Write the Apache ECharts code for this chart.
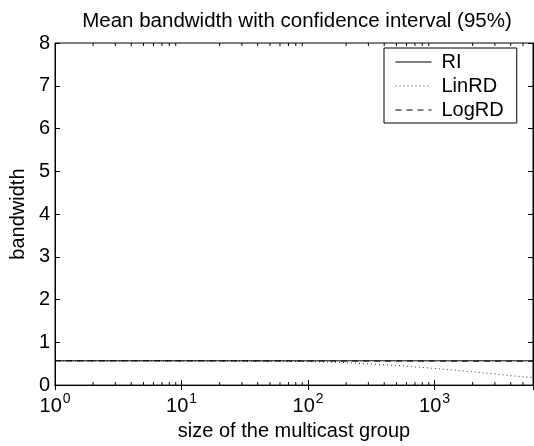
<!DOCTYPE html>
<html><head><meta charset="utf-8">
<script src="https://cdn.jsdelivr.net/npm/echarts@6/dist/echarts.min.js"></script>
<style>html,body{margin:0;padding:0;background:#fff}#c{width:534px;height:446px}</style>
</head><body><div id="c"></div>
<script>
var titleText = 'Mean bandwidth with confidence interval (95%)';
var xName = 'size of the multicast group';
var yName = 'bandwidth';
var groupSizes = [1, 2, 5, 10, 20, 50, 100, 200, 500, 1000, 2000, 3000, 4000, 5000, 6000];
var riValues    = [0.568, 0.568, 0.568, 0.568, 0.568, 0.568, 0.568, 0.568, 0.568, 0.568, 0.568, 0.568, 0.568, 0.568, 0.568];
var linrdValues = [0.568, 0.568, 0.567, 0.566, 0.564, 0.558, 0.55, 0.525, 0.46, 0.39, 0.31, 0.26, 0.22, 0.195, 0.175];
var logrdValues = [0.568, 0.567, 0.567, 0.566, 0.566, 0.565, 0.564, 0.563, 0.562, 0.561, 0.560, 0.560, 0.559, 0.559, 0.558];
var minorTicks = [2,3,4,5,6,7,8,9,20,30,40,50,60,70,80,90,200,300,400,500,600,700,800,900,2000,3000,4000,5000];
var seriesNames = ['RI', 'LinRD', 'LogRD'];
var xMin = 1, xMax = 6000, yMin = 0, yMax = 8;

var FONT = 'Liberation Sans, Arial, sans-serif';
function pairs(xs, ys) { return xs.map(function (x, i) { return [x, ys[i]]; }); }

var chart = echarts.init(document.getElementById('c'), null, {renderer: 'canvas'});
var black = '#000';
var option = {
  backgroundColor: '#fff',
  animation: false,
  title: {
    text: titleText, left: 292, top: 6, textAlign: 'center',
    textStyle: {fontFamily: FONT, fontSize: 20.5, fontWeight: 'normal', color: black}
  },
  grid: {left: 50, right: 1, top: 43, bottom: 56, show: true, borderColor: black, borderWidth: 1, backgroundColor: '#fff'},
  legend: {
    data: seriesNames, orient: 'vertical', left: 384, top: 48,
    backgroundColor: '#fff', borderColor: black, borderWidth: 1,
    padding: [3, 13, 2, 11], itemGap: 2, itemWidth: 36, itemHeight: 14,
    itemStyle: {opacity: 0, color: 'transparent', borderWidth: 0},
    lineStyle: {width: 1},
    textStyle: {fontFamily: FONT, fontSize: 20, color: black, lineHeight: 22, padding: [0, 0, 0, 5]}
  },
  xAxis: [{
    type: 'log', logBase: 10, min: xMin, max: xMax, position: 'bottom',
    name: xName, nameLocation: 'middle', nameGap: 33,
    nameTextStyle: {fontFamily: FONT, fontSize: 20, color: black},
    axisLine: {show: true, lineStyle: {color: black, width: 1}},
    axisTick: {show: true, inside: true, length: 5, lineStyle: {color: black}},
    splitLine: {show: false}, minorTick: {show: false},
    axisLabel: {
      margin: 7, color: black, showMaxLabel: false,
      formatter: function (v) { var e = Math.round(Math.log10(v)); return '{b|10}{s|' + e + '}'; },
      rich: {
        b: {fontFamily: FONT, fontSize: 20, color: black, lineHeight: 24, verticalAlign: 'bottom'},
        s: {fontFamily: FONT, fontSize: 14, color: black, lineHeight: 24, verticalAlign: 'top', padding: [0, 0, 10, 1]}
      }
    }
  }, {
    type: 'log', logBase: 10, min: xMin, max: xMax, position: 'top',
    axisLine: {show: true, lineStyle: {color: black, width: 1}},
    axisTick: {show: true, inside: true, length: 5, lineStyle: {color: black}},
    axisLabel: {show: false}, splitLine: {show: false}
  }],
  yAxis: [{
    type: 'value', min: yMin, max: yMax, interval: 1, position: 'left',
    name: yName, nameLocation: 'middle', nameGap: 14,
    nameTextStyle: {fontFamily: FONT, fontSize: 20, color: black},
    axisLine: {show: true, lineStyle: {color: black, width: 1}},
    axisTick: {show: true, inside: true, length: 5, lineStyle: {color: black}},
    axisLabel: {fontFamily: FONT, fontSize: 20, color: black, margin: 5},
    splitLine: {show: false}
  }, {
    type: 'value', min: yMin, max: yMax, interval: 1, position: 'right',
    axisLine: {show: true, lineStyle: {color: black, width: 1}},
    axisTick: {show: true, inside: true, length: 5, lineStyle: {color: black}},
    axisLabel: {show: false}, splitLine: {show: false}
  }],
  series: [{
    name: 'RI', type: 'line', data: pairs(groupSizes, riValues), showSymbol: false, symbol: 'none',
    lineStyle: {color: black, width: 1, type: 'solid'}, itemStyle: {color: black}, z: 3
  }, {
    name: 'LinRD', type: 'line', data: pairs(groupSizes, linrdValues), showSymbol: false, symbol: 'none',
    lineStyle: {color: '#333', width: 1, type: [1, 3]}, itemStyle: {color: '#333'}, z: 2
  }, {
    name: 'LogRD', type: 'line', data: pairs(groupSizes, logrdValues), showSymbol: false, symbol: 'none',
    lineStyle: {color: black, width: 1, type: [6, 5]}, itemStyle: {color: black}, z: 2
  }, {
    name: 'minor', type: 'custom', xAxisIndex: 0, yAxisIndex: 0, silent: true,
    data: minorTicks.map(function (v) { return [v]; }),
    renderItem: function (params, api) {
      var v = api.value(0);
      var b = api.coord([v, yMin]);
      var t = api.coord([v, yMax]);
      return {type: 'group', children: [
        {type: 'line', shape: {x1: b[0], y1: b[1], x2: b[0], y2: b[1] - 3}, style: {stroke: black, lineWidth: 1}},
        {type: 'line', shape: {x1: t[0], y1: t[1], x2: t[0], y2: t[1] + 3}, style: {stroke: black, lineWidth: 1}}
      ]};
    }
  }]
};
chart.setOption(option);
</script></body></html>
